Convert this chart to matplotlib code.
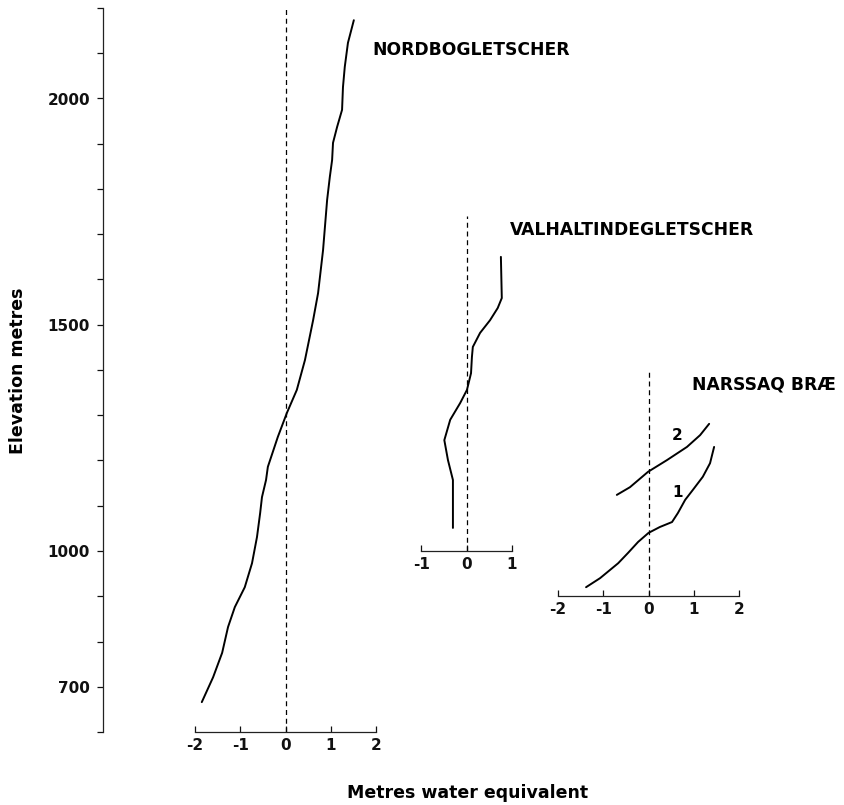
import matplotlib
matplotlib.use("Agg")
import matplotlib.pyplot as plt
import numpy as np

# Mass balance profiles, metres water equivalent vs elevation (m)
nordbo_mwe = [-1.85, -1.60, -1.40, -1.27, -1.12, -0.90, -0.74, -0.63, -0.56,
              -0.52, -0.43, -0.39, -0.17, 0.03, 0.25, 0.43, 0.61, 0.72, 0.83,
              0.92, 0.98, 1.03, 1.05, 1.14, 1.25, 1.27, 1.31, 1.38, 1.51]
nordbo_elev = [666, 721, 775, 832, 876, 920, 973, 1031, 1084,
               1119, 1157, 1186, 1252, 1305, 1356, 1422, 1510, 1570, 1665,
               1776, 1827, 1864, 1902, 1937, 1975, 2025, 2070, 2123, 2173]

valhal_mwe = [-0.30, -0.30, -0.30, -0.41, -0.49, -0.36, -0.14, 0.01, 0.10,
              0.12, 0.14, 0.30, 0.52, 0.69, 0.78, 0.76]
valhal_elev = [1051, 1113, 1157, 1201, 1245, 1290, 1327, 1356, 1393,
               1429, 1451, 1482, 1510, 1537, 1559, 1650]

narssaq1_mwe = [-1.38, -1.07, -0.67, -0.45, -0.23, 0.0, 0.25, 0.52, 0.65,
                0.81, 0.98, 1.20, 1.36, 1.45]
narssaq1_elev = [920, 940, 973, 996, 1020, 1040, 1053, 1064, 1084,
                 1113, 1135, 1164, 1194, 1230]

narssaq2_mwe = [-0.70, -0.41, -0.01, 0.41, 0.85, 1.14, 1.34]
narssaq2_elev = [1124, 1141, 1175, 1201, 1230, 1256, 1281]

elev_ticks = list(range(600, 2201, 100))
elev_labels = [700, 1000, 1500, 2000]

# figure geometry (pixels of an 844x805 image)
W, H = 844, 805
PX_UNIT = 45.25          # px per 1 m w.e. and per 100 m
Y_BOT, Y_TOP = 732, 8    # px rows of 600 m and 2200 m
ELEV_LIM = (600, 2200)

plt.rcParams['font.family'] = ['DejaVu Sans']
plt.rcParams['font.weight'] = 'bold'

fig = plt.figure(figsize=(W / 100, H / 100), dpi=100)
ax_bottom = (H - Y_BOT) / H
ax_height = (Y_BOT - Y_TOP) / H


def panel(x0_px, xmin, xmax, axis_elev, tick_vals):
    """Transparent axes sharing the elevation scale, zero at x0_px."""
    left = (x0_px + xmin * PX_UNIT) / W
    width = (xmax - xmin) * PX_UNIT / W
    ax = fig.add_axes([left, ax_bottom, width, ax_height])
    ax.patch.set_visible(False)
    ax.set_xlim(xmin, xmax)
    ax.set_ylim(*ELEV_LIM)
    for side in ('top', 'right', 'left'):
        ax.spines[side].set_visible(False)
    ax.spines['bottom'].set_position(('data', axis_elev))
    ax.spines['bottom'].set_bounds(tick_vals[0], tick_vals[-1])
    ax.spines['bottom'].set_linewidth(0.9)
    ax.spines['bottom'].set_color('#222222')
    ax.set_yticks([])
    ax.set_xticks(tick_vals)
    ax.set_xticklabels([str(v) for v in tick_vals])
    ax.tick_params(axis='x', direction='in', length=4, width=0.9,
                   pad=4, labelsize=11, colors='#111111')
    return ax


# elevation axis
ax_y = fig.add_axes([102.5 / W, ax_bottom, 0.02, ax_height])
ax_y.patch.set_visible(False)
ax_y.set_ylim(*ELEV_LIM)
for side in ('top', 'right', 'bottom'):
    ax_y.spines[side].set_visible(False)
ax_y.spines['left'].set_linewidth(0.9)
ax_y.spines['left'].set_color('#222222')
ax_y.set_xticks([])
ax_y.set_yticks(elev_ticks)
ax_y.set_yticklabels([str(t) if t in elev_labels else '' for t in elev_ticks])
ax_y.tick_params(axis='y', direction='out', length=4, width=0.9,
                 pad=5, labelsize=11, colors='#111111')
fig.text(18 / W, 1 - 371 / H, 'Elevation metres', rotation=90,
         ha='center', va='center', fontsize=12.5, fontweight='bold')

line_kw = dict(color='black', lw=1.4, solid_joinstyle='round',
               solid_capstyle='round')
dash_kw = dict(color='black', lw=0.9, ls=(0, (4, 3)))

# Nordbogletscher
ax_n = panel(285.5, -2.3, 2.3, 600, [-2, -1, 0, 1, 2])
ax_n.plot([0, 0], [600, 2200], **dash_kw)
ax_n.plot(nordbo_mwe, nordbo_elev, **line_kw)
ax_n.text(1.93, 2107, 'NORDBOGLETSCHER', ha='left', va='center',
          fontsize=12.3, fontweight='bold')

# Valhaltindegletscher
ax_v = panel(466.5, -1.2, 1.2, 1000, [-1, 0, 1])
ax_v.plot([0, 0], [1000, 1740], **dash_kw)
ax_v.plot(valhal_mwe, valhal_elev, **line_kw)
ax_v.text(0.96, 1709, 'VALHALTINDEGLETSCHER', ha='left', va='center',
          fontsize=12.3, fontweight='bold')

# Narssaq Bræ
ax_s = panel(648.5, -2.2, 2.2, 900, [-2, -1, 0, 1, 2])
ax_s.plot([0, 0], [900, 1400], **dash_kw)
ax_s.plot(narssaq1_mwe, narssaq1_elev, **line_kw)
ax_s.plot(narssaq2_mwe, narssaq2_elev, **line_kw)
ax_s.text(0.96, 1367, 'NARSSAQ BRÆ', ha='left', va='center',
          fontsize=12.3, fontweight='bold')
ax_s.text(0.63, 1256, '2', ha='center', va='center', fontsize=11,
          fontweight='bold')
ax_s.text(0.65, 1130, '1', ha='center', va='center', fontsize=11,
          fontweight='bold')

fig.text(468 / W, 1 - 793 / H, 'Metres water equivalent', ha='center',
         va='center', fontsize=12.5, fontweight='bold')

fig.savefig('out.png', dpi=100, facecolor='white')
